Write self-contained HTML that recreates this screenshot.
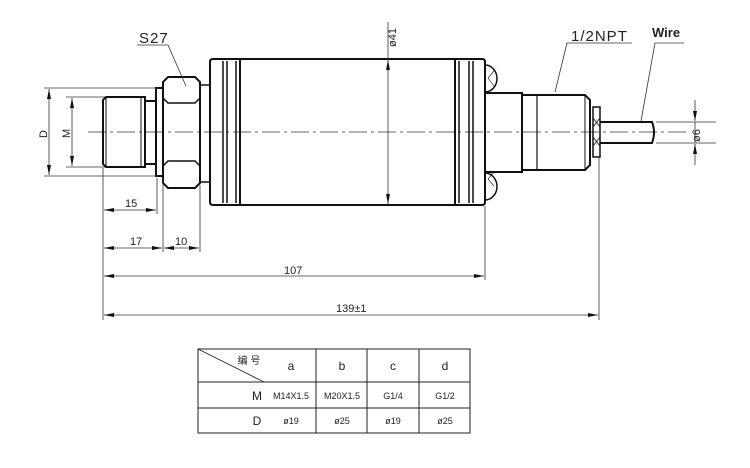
<!DOCTYPE html>
<html><head><meta charset="utf-8"><style>
html,body{margin:0;padding:0;background:#fff;}
svg{display:block;}
text{font-family:"Liberation Sans","Noto Sans CJK SC",sans-serif;fill:#222;}
</style></head><body>
<svg width="750" height="468" viewBox="0 0 750 468" xmlns="http://www.w3.org/2000/svg">
<defs>
<marker id="a" viewBox="0 0 10 4" refX="10" refY="2" markerWidth="10" markerHeight="4" orient="auto-start-reverse" markerUnits="userSpaceOnUse"><path d="M0,0 L10,2 L0,4z" fill="#111"/></marker>
</defs>
<line x1="88" y1="132" x2="690" y2="132" stroke="#333" stroke-width="0.8" stroke-dasharray="18,4,3,4"/>
<g fill="none" stroke="#111" stroke-width="2">
<path d="M106,97 H145 V167 H106 L103,164 V100 Z"/>
<line x1="106" y1="97" x2="106" y2="167" stroke-width="1"/>
<line x1="141" y1="97" x2="141" y2="167" stroke-width="1"/>
<rect x="145" y="101" width="11" height="63"/>
<rect x="156" y="88" width="7" height="88"/>
<!-- hex -->
<path d="M168,77 H195 L200,82 V183 L195,188 H168 L163,183 V82 Z"/>
<path d="M163,98 L168,103 H195 L200,98" stroke-width="1.5"/>
<path d="M163,166 L168,161 H195 L200,166" stroke-width="1.5"/>
<rect x="200" y="85" width="10" height="97" stroke-width="1.5"/>
<!-- body -->
<path d="M213,59 H482 Q485,59 485,62 V202 Q485,205 482,205 H213 Q210,205 210,202 V62 Q210,59 213,59 Z"/>
<line x1="223" y1="61" x2="223" y2="203" stroke-width="1.5"/>
<line x1="227" y1="61" x2="227" y2="203" stroke-width="1.5"/>
<line x1="236" y1="61" x2="236" y2="203" stroke-width="1.5"/>
<line x1="240" y1="59" x2="240" y2="205"/>
<line x1="455" y1="59" x2="455" y2="205"/>
<line x1="459" y1="61" x2="459" y2="203" stroke-width="1.5"/>
<line x1="469" y1="61" x2="469" y2="203" stroke-width="1.5"/>
<line x1="473" y1="61" x2="473" y2="203" stroke-width="1.5"/>
<path d="M485,65 A12,13.5 0 0 1 485,92" stroke-width="1.5"/>
<path d="M485,173 A12,13.5 0 0 1 485,200" stroke-width="1.5"/>
<path d="M494,71 L488,78 L494,86 M494,172 L488,179 L494,186" stroke-width="0.6"/>
<rect x="485" y="93" width="37" height="79"/>
<path d="M522,95 H585 L590,100 V165 L585,170 H522 Z"/>
<line x1="537" y1="95" x2="537" y2="170" stroke-width="1.2"/>
<line x1="585" y1="95" x2="585" y2="170" stroke-width="1"/>
<rect x="593" y="107" width="7" height="50" stroke-width="1.5"/>
<path d="M593,118 L600,127 M593,127 L600,118 M593,137 L600,146 M593,146 L600,137" stroke-width="0.8"/>
<path d="M600,122 H652 Q656,132 652,143 H600"/>
</g>
<g stroke="#333" stroke-width="0.8" fill="none">
<line x1="44" y1="88" x2="158" y2="88"/><line x1="44" y1="176" x2="158" y2="176"/>
<line x1="49" y1="89" x2="49" y2="175" marker-start="url(#a)" marker-end="url(#a)"/>
<line x1="66" y1="97" x2="106" y2="97"/><line x1="66" y1="167" x2="106" y2="167"/>
<line x1="72" y1="98" x2="72" y2="166" marker-start="url(#a)" marker-end="url(#a)"/>
<line x1="103" y1="168" x2="103" y2="320"/>
<line x1="157" y1="178" x2="157" y2="214"/>
<line x1="163" y1="178" x2="163" y2="252"/>
<line x1="200" y1="185" x2="200" y2="252"/>
<line x1="485" y1="206" x2="485" y2="280"/>
<line x1="599" y1="158" x2="599" y2="320"/>
<line x1="104" y1="210" x2="156" y2="210" marker-start="url(#a)" marker-end="url(#a)"/>
<line x1="104" y1="248" x2="162" y2="248" marker-start="url(#a)" marker-end="url(#a)"/>
<line x1="164" y1="248" x2="199" y2="248" marker-start="url(#a)" marker-end="url(#a)"/>
<line x1="104" y1="276" x2="484" y2="276" marker-start="url(#a)" marker-end="url(#a)"/>
<line x1="104" y1="315" x2="598" y2="315" marker-start="url(#a)" marker-end="url(#a)"/>
<line x1="388" y1="22" x2="388" y2="60"/>
<line x1="388" y1="60" x2="388" y2="204" marker-start="url(#a)" marker-end="url(#a)"/>
<line x1="656" y1="122" x2="716" y2="122"/><line x1="656" y1="143" x2="716" y2="143"/>
<line x1="695" y1="100" x2="695" y2="121" marker-end="url(#a)"/>
<line x1="695" y1="165" x2="695" y2="144" marker-end="url(#a)"/>
<line x1="695" y1="122" x2="695" y2="143"/>
<path d="M137,45 H168 L186,86"/>
<path d="M632,43 H567 L555,92"/>
<path d="M684,43 H655 L641,121"/>
</g>
<g font-size="13">
<text x="139" y="43" font-size="15" letter-spacing="1">S27</text>
<text x="571" y="41" font-size="15" letter-spacing="1">1/2NPT</text>
<text x="652" y="37" font-size="13" font-weight="bold" fill="#444">Wire</text>
<text x="125" y="207" font-size="11">15</text>
<text x="130" y="245" font-size="11">17</text>
<text x="175" y="245" font-size="11">10</text>
<text x="284" y="274" font-size="11">107</text>
<text x="336" y="312" font-size="11">139±1</text>
<text transform="translate(47,138) rotate(-90)" font-size="11">D</text>
<text transform="translate(70,138) rotate(-90)" font-size="11">M</text>
<text transform="translate(396,47) rotate(-90)" font-size="11">ø41</text>
<text transform="translate(700,142) rotate(-90)" font-size="11">ø6</text>
</g>
<g stroke="#222" stroke-width="1" fill="none">
<rect x="198" y="349" width="272" height="84"/>
<line x1="198" y1="382" x2="470" y2="382"/>
<line x1="198" y1="408" x2="470" y2="408"/>
<line x1="316" y1="349" x2="316" y2="433"/>
<line x1="367" y1="349" x2="367" y2="433"/>
<line x1="419" y1="349" x2="419" y2="433"/>
<line x1="198" y1="349" x2="264" y2="382" stroke-width="0.8"/>
</g>
<g font-size="11" text-anchor="middle">
<text x="249" y="364" font-size="10">编 号</text>
<text x="291" y="370" font-size="12">a</text><text x="342" y="370" font-size="12">b</text><text x="393" y="370" font-size="12">c</text><text x="445" y="370" font-size="12">d</text>
<text x="257" y="400" font-size="12">M</text>
<text x="291" y="399" font-size="9">M14X1.5</text><text x="342" y="399" font-size="9">M20X1.5</text>
<text x="393" y="399" font-size="9">G1/4</text><text x="445" y="399" font-size="9">G1/2</text>
<text x="257" y="425" font-size="12">D</text>
<text x="291" y="424" font-size="9">ø19</text><text x="342" y="424" font-size="9">ø25</text>
<text x="393" y="424" font-size="9">ø19</text><text x="445" y="424" font-size="9">ø25</text>
</g>
</svg>
</body></html>
